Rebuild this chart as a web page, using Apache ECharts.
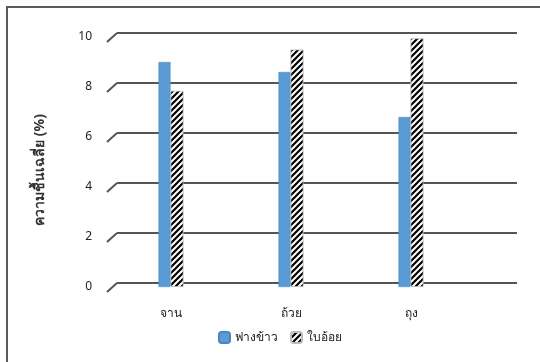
<!DOCTYPE html>
<html>
<head>
<meta charset="utf-8">
<script src="https://cdn.jsdelivr.net/npm/echarts@6/dist/echarts.min.js"></script>
<style>
  html, body { margin: 0; padding: 0; background: #fff; overflow: hidden; }
  #frame { position: absolute; left: 6px; top: 6px; width: 560px; height: 380px;
           border-left: 2px solid #5a5a5a; border-top: 2px solid #5a5a5a; }
  #chart { position: absolute; left: 0; top: 0; width: 540px; height: 362px; }
</style>
</head>
<body>
<div id="frame"></div>
<div id="chart"></div>
<script>
// Average moisture (%) of containers made from rice straw and sugarcane leaves
const categories = ['จาน', 'ถ้วย', 'ถุง'];
const strawValues = [9.0, 8.6, 6.8];          // ฟางข้าว
const caneLeafValues = [7.85, 9.5, 9.95];     // ใบอ้อย
const seriesNames = ['ฟางข้าว', 'ใบอ้อย'];
const yTicks = [0, 2, 4, 6, 8, 10];
const yTitle = 'ความชื้นเฉลี่ย (%)';

const FONT = 'Tahoma, "Noto Sans", "DejaVu Sans", sans-serif';

// diagonal black/white stripe fill for the second series
function stripePattern() {
  const c = document.createElement('canvas');
  c.width = 6; c.height = 6;
  const g = c.getContext('2d');
  g.fillStyle = '#ffffff';
  g.fillRect(0, 0, 6, 6);
  g.strokeStyle = '#000000';
  g.lineWidth = 2.2;
  g.beginPath();
  g.moveTo(-1, 7); g.lineTo(7, -1);
  g.moveTo(-4, 4); g.lineTo(4, -4);
  g.moveTo(2, 10); g.lineTo(10, 2);
  g.stroke();
  return c;
}
const stripes = { image: stripePattern(), repeat: 'repeat' };

const chart = echarts.init(document.getElementById('chart'), null, { renderer: 'canvas' });

chart.setOption({
  animation: false,
  textStyle: { fontFamily: FONT },
  legend: {
    data: seriesNames,
    left: 213,
    top: 326,
    itemWidth: 11,
    itemHeight: 11,
    itemGap: 12,
    textStyle: { fontSize: 12, color: '#222', fontFamily: FONT }
  },
  grid: [
    // front plane holding the columns
    { left: 111, right: 69, top: 37, bottom: 75 },
    // back wall holding the gridlines
    { left: 117, right: 23, top: 33, bottom: 79 }
  ],
  xAxis: [
    {
      type: 'category', gridIndex: 0, data: categories,
      axisLine: { show: false }, axisTick: { show: false },
      axisLabel: { margin: 21, fontSize: 12, color: '#222', fontFamily: FONT }
    },
    { type: 'value', gridIndex: 1, min: 0, max: 1, show: false }
  ],
  yAxis: [
    {
      type: 'value', gridIndex: 0, min: 0, max: 10, interval: 2,
      axisLine: { show: false }, axisTick: { show: false }, splitLine: { show: false },
      axisLabel: { margin: 19, fontSize: 12, color: '#222', padding: [6, 0, 0, 0], fontFamily: FONT },
      name: yTitle, nameLocation: 'middle', nameRotate: 90, nameGap: 64,
      nameTextStyle: { fontSize: 14, fontWeight: 'bold', color: '#333', fontFamily: FONT,
                       padding: [0, 16, 0, 0] }
    },
    {
      type: 'value', gridIndex: 1, min: 0, max: 10, interval: 2,
      axisLine: { show: false }, axisTick: { show: false }, axisLabel: { show: false },
      splitLine: { show: true, lineStyle: { color: '#555', width: 2 } }
    }
  ],
  series: [
    {
      // slanted floor edges joining each gridline to the front plane
      type: 'custom', xAxisIndex: 1, yAxisIndex: 1, silent: true, z: 1,
      data: yTicks.map(v => [0, v]),
      renderItem: function (params, api) {
        const p = api.coord([api.value(0), api.value(1)]);
        return {
          type: 'line',
          shape: { x1: p[0] - 10, y1: p[1] + 9, x2: p[0], y2: p[1] },
          style: { stroke: '#555', lineWidth: 2 }
        };
      }
    },
    {
      name: seriesNames[0], type: 'bar', xAxisIndex: 0, yAxisIndex: 0, z: 3,
      data: strawValues, barWidth: 12, barGap: '0%',
      itemStyle: { color: '#5b9bd5', borderColor: '#4a86bd', borderWidth: 0.5 }
    },
    {
      name: seriesNames[1], type: 'bar', xAxisIndex: 0, yAxisIndex: 0, z: 3,
      data: caneLeafValues, barWidth: 13,
      itemStyle: { color: stripes, borderColor: '#bbbbbb', borderWidth: 0.8 }
    }
  ]
});
</script>
</body>
</html>
